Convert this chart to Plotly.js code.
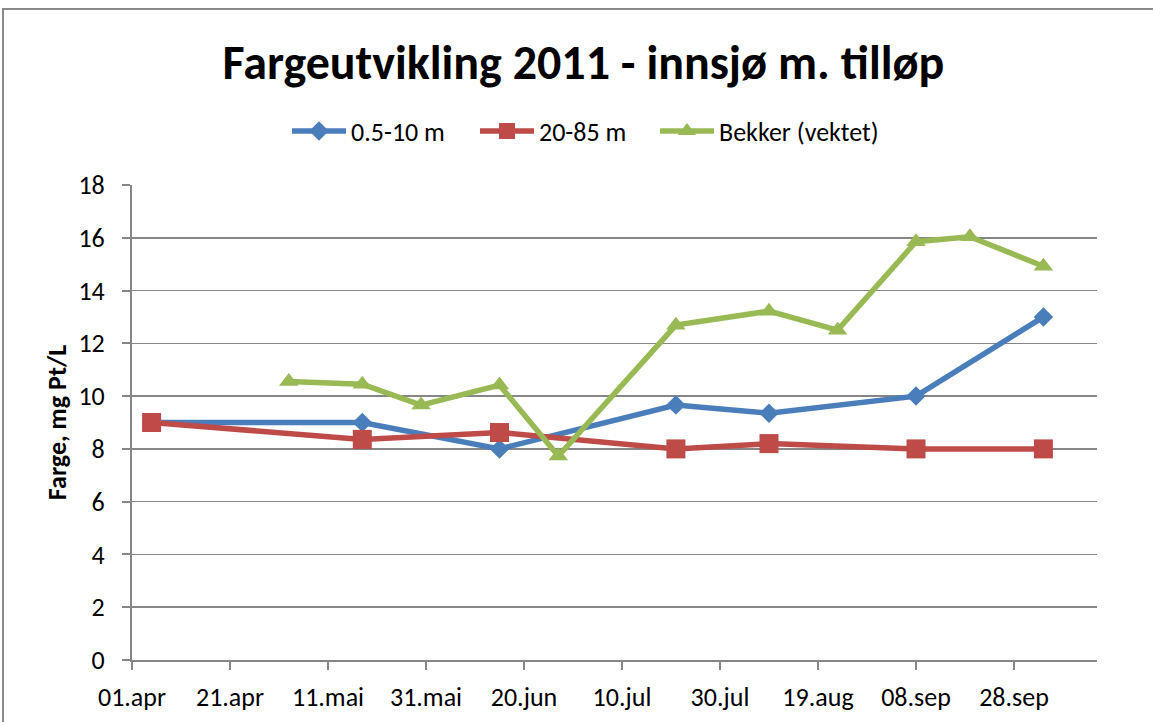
<!DOCTYPE html>
<html>
<head>
<meta charset="utf-8">
<script src="https://cdn.plot.ly/plotly-3.0.1.min.js"></script>
<style>
html,body{margin:0;padding:0;background:#fff;}
#wrap{position:relative;width:1153px;height:722px;overflow:hidden;}
#chart{position:absolute;left:0;top:0;width:1153px;height:722px;}
#frame{position:absolute;left:2px;top:8px;width:1170px;height:740px;border:2px solid #8a8a8a;pointer-events:none;box-sizing:border-box;}
</style>
</head>
<body>
<div id="wrap"><div id="chart"></div><div id="frame"></div></div>
<script>
const datesA = ['2011-04-05','2011-05-18','2011-06-15','2011-07-21','2011-08-09','2011-09-08','2011-10-04'];
const blueVals = [9.0, 9.0, 8.0, 9.66, 9.35, 10.0, 13.0];
const redVals  = [9.0, 8.36, 8.62, 8.0, 8.2, 8.0, 8.0];
const datesB = ['2011-05-03','2011-05-18','2011-05-30','2011-06-15','2011-06-27','2011-07-21','2011-08-09','2011-08-23','2011-09-08','2011-09-19','2011-10-04'];
const greenVals = [10.55, 10.45, 9.66, 10.42, 7.73, 12.69, 13.22, 12.5, 15.85, 16.04, 14.92];
const tickVals = ['2011-04-01','2011-04-21','2011-05-11','2011-05-31','2011-06-20','2011-07-10','2011-07-30','2011-08-19','2011-09-08','2011-09-28'];
const tickText = ['01.apr','21.apr','11.mai','31.mai','20.jun','10.jul','30.jul','19.aug','08.sep','28.sep'];
const seriesNames = ['0.5-10 m','20-85 m','Bekker (vektet)'];

const FONT = 'Carlito, Calibri, Lato, "Liberation Sans", Arial, sans-serif';
const traces = [
  {x: datesA, y: blueVals, name: seriesNames[0], type:'scatter', mode:'lines+markers', legend:'legend',
   line:{color:'#4A7EBB', width:5.5}, marker:{symbol:'diamond', size:15, color:'#4A7EBB'}},
  {x: datesA, y: redVals, name: seriesNames[1], type:'scatter', mode:'lines+markers', legend:'legend2',
   line:{color:'#BE4B48', width:5.5}, marker:{symbol:'square', size:19, color:'#BE4B48'}},
  {x: datesB, y: greenVals, name: seriesNames[2], type:'scatter', mode:'lines+markers', legend:'legend3',
   line:{color:'#98B954', width:5.5}, marker:{symbol:'triangle-up', size:17, color:'#98B954'}}
];
function leg(px){
  return {orientation:'h', x:(px-132)/965, xanchor:'left', y:(660-131)/475, yanchor:'middle',
          font:{family:FONT, size:26}, itemwidth:54, bgcolor:'rgba(0,0,0,0)'};
}
const layout = {
  width:1153, height:722,
  margin:{l:132, r:56, t:185, b:62},
  paper_bgcolor:'#fff', plot_bgcolor:'#fff',
  font:{family:FONT, color:'#000', size:26},
  title:{text:'<b>Fargeutvikling 2011 - innsjø m. tilløp</b>', font:{family:FONT, size:48, color:'#000'},
         x:0.506, xanchor:'center', y:1-62/722, yanchor:'middle', yref:'container'},
  showlegend:true,
  legend:leg(287), legend2:leg(475), legend3:leg(655),
  xaxis:{type:'date', range:['2011-04-01','2011-10-14 22:30'], tickvals:tickVals, ticktext:tickText,
         showgrid:false, zeroline:false, showline:true, linecolor:'#868686', linewidth:2,
         ticks:'outside', ticklen:8, tickwidth:2, tickcolor:'#868686',
         tickfont:{family:FONT, size:26}, ticklabelstandoff:5, fixedrange:true},
  yaxis:{range:[0,18], dtick:2, tick0:0, showgrid:true, gridcolor:'#868686', gridwidth:1.6,
         zeroline:false, showline:true, linecolor:'#868686', linewidth:2,
         ticks:'outside', ticklen:8, tickwidth:2, tickcolor:'#868686',
         tickfont:{family:FONT, size:26}, ticklabelstandoff:12,
         title:{text:'<b>Farge, mg Pt/L</b>', font:{family:FONT, size:26}, standoff:4}, fixedrange:true}
};
Plotly.newPlot('chart', traces, layout, {displayModeBar:false, staticPlot:true});
</script>
</body>
</html>
